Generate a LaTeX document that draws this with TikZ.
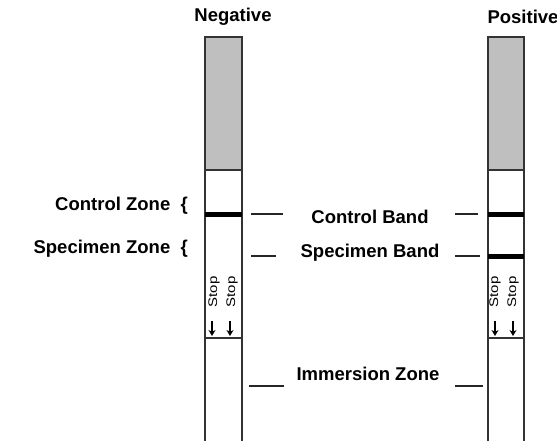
\documentclass[tikz,border=0pt]{standalone}
\usepackage{fontspec}
\setmainfont{Liberation Sans}
\usetikzlibrary{arrows.meta}
\begin{document}
\begin{tikzpicture}[x=1pt,y=-1pt,
  lbl/.style={font=\fontsize{18.5}{18.5}\selectfont\bfseries, inner sep=0pt},
  stoptxt/.style={font=\fontsize{12.5}{12.5}\selectfont, inner sep=0pt, rotate=90, xscale=1.2},
  edge/.style={draw=black!80, line width=1.6pt},
  tick/.style={draw=black!85, line width=1.3pt},
  band/.style={fill=black},
  stoparrow/.style={-{Stealth[length=6pt,width=7pt]}, line width=1.1pt}]
\useasboundingbox (0,0) rectangle (557,441);

% one test strip between a left and a right edge
\newcommand\teststrip[2]{%
  \fill[black!25] (#1,37) rectangle (#2,170);
  \fill[white] (#1,170) rectangle (#2,441);
  \draw[edge] (#1,441) -- (#1,37) -- (#2,37) -- (#2,441);
  \draw[edge] (#1,170) -- (#2,170);
  \draw[edge] (#1,338) -- (#2,338);
  \fill[band] (#1,212) rectangle (#2,217);
}

\teststrip{205}{242}
\teststrip{488}{524}
\fill[band] (488,254) rectangle (524,259);

% headings
\node[lbl] (neg) at (233,17) {Negative};
\node[lbl] (pos) at (523,17) {Positive};

% zone labels
\node[lbl, anchor=east] (cz) at (188,206) {Control Zone\ \ \{};
\node[lbl, anchor=east] (sz) at (188,249) {Specimen Zone\ \ \{};

% band labels with leader ticks
\node[lbl] (cb) at (370,217) {Control Band};
\node[lbl] (sb) at (370,253) {Specimen Band};
\node[lbl] (iz) at (368,374) {Immersion Zone};

\draw[tick] (251,214) -- (283,214);
\draw[tick] (455,214) -- (478,214);
\draw[tick] (251,256) -- (276,256);
\draw[tick] (455,256) -- (480,256);
\draw[tick] (249,386) -- (284,386);
\draw[tick] (455,386) -- (483,386);

% stop marks
\foreach \sx/\ax [count=\i] in {214/212, 232/230, 495/495, 513/513} {
  \node[stoptxt] (stop\i) at (\sx,292) {Stop};
  \coordinate (atop\i) at (\ax,321);
  \coordinate (abot\i) at (\ax,336);
  \draw[stoparrow] (atop\i) -- (abot\i);
}
\end{tikzpicture}
\end{document}
